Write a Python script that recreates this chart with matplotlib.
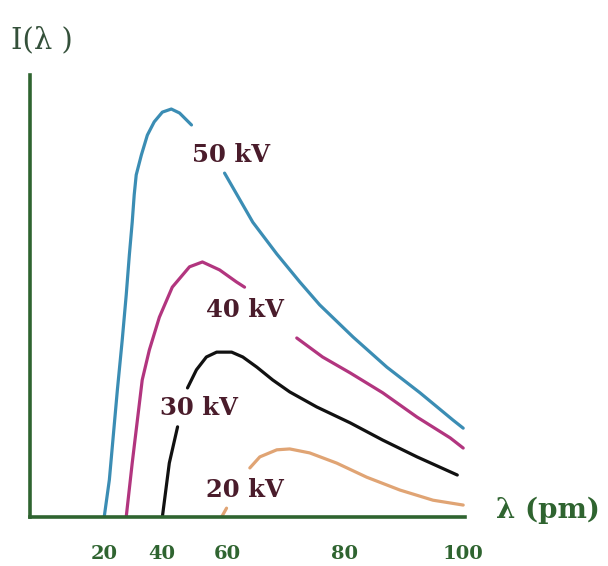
import numpy as np
import matplotlib
matplotlib.use("Agg")
import matplotlib.pyplot as plt

# wavelength (pm) / intensity (arb. units);
# every curve is split where its label sits on top of it
lam_50a = [20, 21.8, 24.6, 26.3, 27.7, 28.8, 29.8, 30.5, 31.2, 33.0, 35.1,
           37.5, 40.3, 43.0, 45.5, 49.1]
int_50a = [0, 8.4, 28.7, 40.0, 50.2, 59.3, 66.7, 72.9, 77.4, 81.9, 86.4,
           89.4, 91.6, 92.3, 91.4, 88.7]
lam_50b = [59.1, 64.3, 68.4, 72.3, 75.7, 81.4, 87.1, 92.7, 98.3, 100]
int_50b = [77.8, 66.7, 59.5, 53.2, 48.0, 40.7, 33.9, 28.1, 21.9, 20.1]

lam_40a = [27.7, 29.8, 33.3, 35.8, 39.3, 43.3, 48.5, 52.4, 57.6, 61.5, 62.9]
int_40a = [0, 12.2, 31.0, 37.8, 45.2, 52.0, 56.6, 57.7, 55.9, 53.2, 52.0]
lam_40b = [71.8, 76.2, 80.9, 86.4, 92.2, 97.8, 100]
int_40b = [40.5, 36.2, 32.6, 28.1, 22.6, 17.9, 15.6]

lam_30a = [40.3, 42.4, 44.9]
int_30a = [0, 12.2, 20.4]
lam_30b = [47.9, 50.6, 53.6, 56.7, 60.7, 62.6, 65.0, 67.7, 70.6, 75.2,
           80.9, 86.4, 92.2, 99.0]
int_30b = [29.2, 33.3, 36.2, 37.3, 37.3, 36.2, 33.9, 31.0, 28.3, 24.9,
           21.3, 17.4, 13.6, 9.5]

lam_20a = [58.2, 59.7]
int_20a = [0, 2.0]
lam_20b = [63.8, 65.5, 68.4, 70.6, 74.0, 78.6, 83.7, 89.3, 94.9, 100]
int_20b = [11.1, 13.6, 15.2, 15.4, 14.5, 12.2, 9.0, 6.1, 3.8, 2.7]

voltages = ["50 kV", "40 kV", "30 kV", "20 kV"]
label_lam = [60.6, 62.9, 51.5, 62.9]
label_int = [81.9, 46.8, 24.7, 6.1]

xticks = [20, 40, 60, 80, 100]

# the sketch's wavelength axis is not evenly spaced: piecewise-linear scale
scale_lam = [-6, 20, 40, 60, 80, 100, 101]
scale_pos = [31, 105, 162, 228, 345, 463, 469]

def fwd(x):
    return np.interp(x, scale_lam, scale_pos)

def inv(p):
    return np.interp(p, scale_pos, scale_lam)

fig = plt.figure(figsize=(6.08, 5.66), dpi=100)
ax = fig.add_axes([30/608, 49/566, 435/608, 442/566])
ax.set_xscale("function", functions=(fwd, inv))
ax.set_xlim(-6, 100.3)
ax.set_ylim(0, 100)

green = "#2f6430"
cols = {"50": "#3b8db4", "40": "#b2357f", "30": "#111111", "20": "#e0a474"}
kw = dict(lw=2.3, solid_capstyle="round", solid_joinstyle="round")
ax.plot(lam_50a, int_50a, color=cols["50"], **kw)
ax.plot(lam_50b, int_50b, color=cols["50"], **kw)
ax.plot(lam_40a, int_40a, color=cols["40"], **kw)
ax.plot(lam_40b, int_40b, color=cols["40"], **kw)
ax.plot(lam_30a, int_30a, color=cols["30"], **kw)
ax.plot(lam_30b, int_30b, color=cols["30"], **kw)
ax.plot(lam_20a, int_20a, color=cols["20"], **kw)
ax.plot(lam_20b, int_20b, color=cols["20"], **kw)

for txt, lx, ly in zip(voltages, label_lam, label_int):
    ax.text(lx, ly, txt, ha="center", va="center", fontsize=17.5,
            fontweight="bold", family="DejaVu Serif", color="#4a1c2b")

for s in ["top", "right"]:
    ax.spines[s].set_visible(False)
for s in ["left", "bottom"]:
    ax.spines[s].set_color(green)
    ax.spines[s].set_linewidth(2.6)

ax.set_yticks([])
ax.set_xticks(xticks)
ax.set_xticklabels([str(t) for t in xticks], fontsize=14, fontweight="bold",
                   family="DejaVu Serif", color=green)
ax.tick_params(axis="x", length=0, pad=20)
ax.patch.set_alpha(0)

fig.text(42/608, 1 - 40/566, "I(λ )", ha="center", va="center", fontsize=21,
         family="DejaVu Serif", color="#34503a")
fig.text(548/608, 1 - 510/566, "λ (pm)", ha="center", va="center", fontsize=20,
         fontweight="bold", family="DejaVu Serif", color=green)

fig.savefig("out.png", dpi=100)
